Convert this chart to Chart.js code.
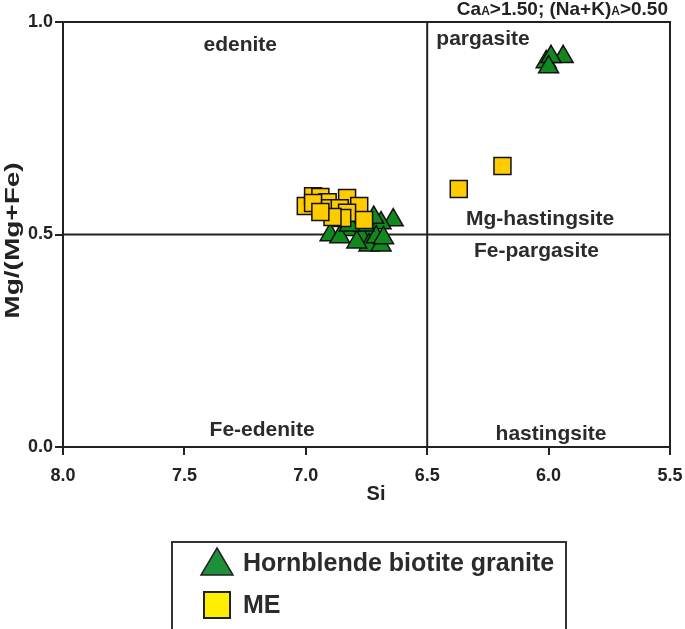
<!DOCTYPE html>
<html>
<head>
<meta charset="utf-8">
<script src="https://cdn.jsdelivr.net/npm/chart.js@4.4.1/dist/chart.umd.min.js"></script>
<style>
  html, body { margin: 0; padding: 0; background: #fff; }
  canvas { display: block; }
</style>
</head>
<body>
<canvas id="amphChart" width="685" height="629"></canvas>
<script>
// Amphibole classification (Ca_A>1.50; (Na+K)_A>0.50), Si vs Mg/(Mg+Fe)

// Hornblende biotite granite
const hbgSi = [6.01, 5.94, 5.99, 6.00, 6.90, 6.64, 6.69, 6.74, 6.77, 6.74, 6.69, 6.83, 6.86, 6.79, 6.71, 6.68, 6.72, 6.76, 6.82];
const hbgMg = [0.906, 0.918, 0.918, 0.894, 0.499, 0.534, 0.527, 0.506, 0.494, 0.475, 0.475, 0.511, 0.494, 0.482, 0.494, 0.492, 0.540, 0.522, 0.522];

// ME (mafic enclaves)
const meSi = [7.00, 6.97, 6.94, 6.91, 6.97, 6.90, 6.83, 6.86, 6.78, 6.83, 6.76, 6.85, 6.89, 6.94, 6.37, 6.19];
const meMg = [0.567, 0.590, 0.588, 0.576, 0.574, 0.562, 0.586, 0.562, 0.567, 0.551, 0.534, 0.539, 0.541, 0.553, 0.607, 0.661];

const seriesNames = ['Hornblende biotite granite', 'ME'];
const xTicks = [8.0, 7.5, 7.0, 6.5, 6.0, 5.5];
const yTicks = [0.0, 0.5, 1.0];

// field boundaries and field names
const siSplit = 6.5;
const mgSplit = 0.5;
const fieldNames = ['edenite', 'pargasite', 'Mg-hastingsite', 'Fe-pargasite', 'Fe-edenite', 'hastingsite'];
const fieldSi = [7.27, 6.27, 6.035, 6.05, 7.18, 5.99];
const fieldMg = [0.946, 0.960, 0.536, 0.461, 0.040, 0.031];

const FONT = '"Liberation Sans", Arial, sans-serif';
const INK = '#222';

function toPoints(xs, ys) {
    return xs.map((x, i) => ({ x: x, y: ys[i] }));
}

// Draw frame, field lines, labels, axis titles and legend box
const decorPlugin = {
    id: 'decor',
    beforeDatasetsDraw(chart) {
        const ctx = chart.ctx;
        const xs = chart.scales.x;
        const ys = chart.scales.y;
        const a = chart.chartArea;
        ctx.save();
        ctx.strokeStyle = INK;
        ctx.lineWidth = 2;
        ctx.beginPath();
        ctx.moveTo(a.left, a.top);
        ctx.lineTo(a.right, a.top);
        ctx.lineTo(a.right, a.bottom);
        const vx = xs.getPixelForValue(siSplit);
        ctx.moveTo(vx, a.top);
        ctx.lineTo(vx, a.bottom);
        const hy = ys.getPixelForValue(mgSplit);
        ctx.moveTo(a.left, hy);
        ctx.lineTo(a.right, hy);
        ctx.stroke();

        ctx.fillStyle = '#2b2b2b';
        ctx.font = 'bold 21px ' + FONT;
        ctx.textAlign = 'center';
        ctx.textBaseline = 'middle';
        fieldNames.forEach((name, i) => {
            ctx.fillText(name, xs.getPixelForValue(fieldSi[i]), ys.getPixelForValue(fieldMg[i]));
        });
        ctx.restore();
    },
    afterDraw(chart) {
        const ctx = chart.ctx;
        const a = chart.chartArea;
        ctx.save();
        ctx.fillStyle = INK;
        ctx.textBaseline = 'alphabetic';

        // header with subscript A
        const parts = [['Ca', 19], ['A', 12], ['>1.50; (Na+K)', 19], ['A', 12], ['>0.50', 19]];
        let total = 0;
        parts.forEach(p => {
            ctx.font = 'bold ' + p[1] + 'px ' + FONT;
            total += ctx.measureText(p[0]).width;
        });
        let px = a.right - 2 - total;
        parts.forEach(p => {
            ctx.font = 'bold ' + p[1] + 'px ' + FONT;
            ctx.textAlign = 'left';
            ctx.fillText(p[0], px, 15);
            px += ctx.measureText(p[0]).width;
        });

        // x title
        ctx.font = 'bold 20px ' + FONT;
        ctx.textAlign = 'center';
        ctx.textBaseline = 'middle';
        ctx.fillText('Si', 376, 494);

        // y title, stretched along its length like the original
        ctx.translate(13, (a.top + a.bottom) / 2 + 6);
        ctx.rotate(-Math.PI / 2);
        ctx.scale(1.4, 1);
        ctx.fillText('Mg/(Mg+Fe)', 0, 0);
        ctx.restore();

        // legend
        ctx.save();
        ctx.strokeStyle = '#333';
        ctx.lineWidth = 2;
        ctx.strokeRect(172, 542, 394, 100);

        ctx.fillStyle = '#1f8f3a';
        ctx.strokeStyle = INK;
        ctx.lineWidth = 1.5;
        ctx.beginPath();
        ctx.moveTo(217, 548);
        ctx.lineTo(233, 575);
        ctx.lineTo(201, 575);
        ctx.closePath();
        ctx.fill();
        ctx.stroke();

        ctx.fillStyle = '#ffee00';
        ctx.lineWidth = 2;
        ctx.fillRect(204, 592, 26, 26);
        ctx.strokeRect(204, 592, 26, 26);

        ctx.fillStyle = '#2b2b2b';
        ctx.font = 'bold 25px ' + FONT;
        ctx.textAlign = 'left';
        ctx.textBaseline = 'middle';
        ctx.fillText(seriesNames[0], 243, 564);
        ctx.fillText(seriesNames[1], 243, 606);
        ctx.restore();
    }
};

const ctx = document.getElementById('amphChart').getContext('2d');
const amphChart = new Chart(ctx, {
    type: 'scatter',
    data: {
        datasets: [{
            label: seriesNames[1],
            data: toPoints(meSi, meMg),
            pointStyle: 'rect',
            pointRadius: 12,
            pointHoverRadius: 12,
            backgroundColor: '#ffcc00',
            borderColor: '#111',
            borderWidth: 1.5,
            order: 0
        }, {
            label: seriesNames[0],
            data: toPoints(hbgSi, hbgMg),
            pointStyle: 'triangle',
            pointRadius: 11.5,
            pointHoverRadius: 11.5,
            backgroundColor: '#11891f',
            borderColor: '#111',
            borderWidth: 1.5,
            order: 1
        }]
    },
    options: {
        responsive: false,
        animation: false,
        devicePixelRatio: 1,
        layout: {
            padding: { top: 22, right: 15, left: 0, bottom: 142 }
        },
        plugins: {
            legend: { display: false },
            tooltip: { enabled: false }
        },
        scales: {
            x: {
                type: 'linear',
                reverse: true,
                min: 5.5,
                max: 8.0,
                afterBuildTicks: (scale) => { scale.ticks = xTicks.map(v => ({ value: v })); },
                afterFit: (scale) => {
                    scale.height = 40;
                    scale.paddingLeft = 0;
                    scale.paddingRight = 0;
                },
                ticks: {
                    callback: (v) => Number(v).toFixed(1),
                    color: INK,
                    font: { family: FONT, size: 18, weight: 'bold' },
                    padding: 10,
                    maxRotation: 0
                },
                grid: {
                    drawOnChartArea: false,
                    drawTicks: true,
                    tickLength: 8,
                    color: INK,
                    lineWidth: 2
                },
                border: { display: true, color: INK, width: 2 }
            },
            y: {
                type: 'linear',
                min: 0,
                max: 1,
                afterBuildTicks: (scale) => { scale.ticks = yTicks.map(v => ({ value: v })); },
                afterFit: (scale) => {
                    scale.width = 63;
                    scale.paddingTop = 0;
                    scale.paddingBottom = 0;
                },
                ticks: {
                    callback: (v) => Number(v).toFixed(1),
                    color: INK,
                    font: { family: FONT, size: 18, weight: 'bold' },
                    padding: 2
                },
                grid: {
                    drawOnChartArea: false,
                    drawTicks: true,
                    tickLength: 8,
                    color: INK,
                    lineWidth: 2
                },
                border: { display: true, color: INK, width: 2 }
            }
        }
    },
    plugins: [decorPlugin]
});
</script>
</body>
</html>
